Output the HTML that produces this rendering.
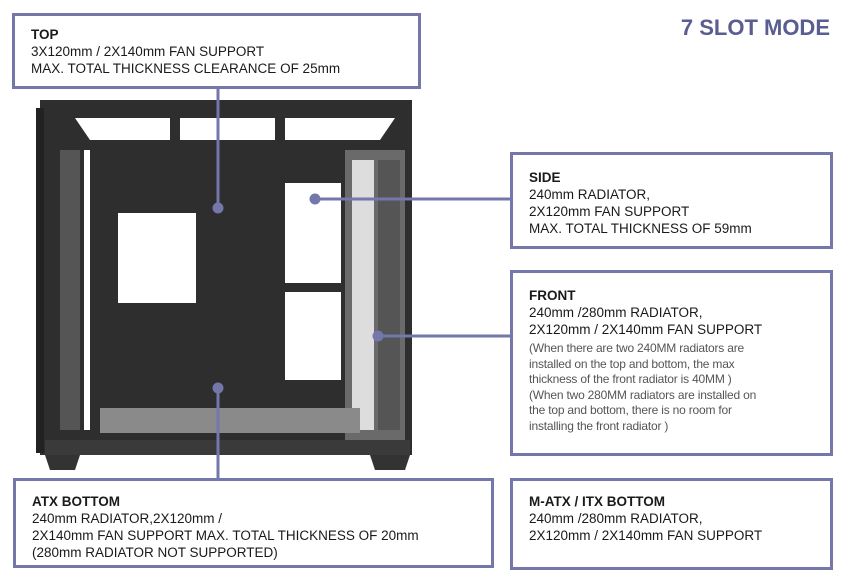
<!DOCTYPE html>
<html><head><meta charset="utf-8"><style>
body{margin:0;width:844px;height:583px;background:#fff;position:relative;overflow:hidden;font-family:"Liberation Sans",sans-serif;color:#1a1a1a}
.box{position:absolute;border:3px solid #7377aa;background:#fff;box-sizing:border-box;padding:10px 16px;font-size:13.5px;line-height:17px}
.box b{font-size:13.5px}
.small{font-size:12px;line-height:15.5px;color:#555;letter-spacing:-0.2px;white-space:nowrap}
svg{position:absolute;left:0;top:0}
</style></head><body>
<svg width="844" height="583">
 <rect x="40" y="100" width="372" height="355" fill="#2e2e2e"/>
 <rect x="36" y="108" width="8" height="345" fill="#222"/>
 <polygon points="75,118 395,118 380,140 90,140" fill="#fff"/>
 <rect x="170" y="118" width="10" height="22" fill="#2e2e2e"/>
 <rect x="275" y="118" width="10" height="22" fill="#2e2e2e"/>
 <rect x="60" y="150" width="20" height="280" fill="#555"/>
 <rect x="84" y="150" width="6" height="280" fill="#fff"/>
 <rect x="118" y="185" width="78" height="118" fill="#fff"/>
 <rect x="118" y="185" width="78" height="28" fill="#2e2e2e"/>
 <rect x="285" y="183" width="56" height="100" fill="#fff"/>
 <rect x="285" y="292" width="56" height="88" fill="#fff"/>
 <rect x="345" y="150" width="60" height="290" fill="#6a6a6a"/>
 <rect x="352" y="160" width="22" height="270" fill="#ddd"/>
 <rect x="378" y="160" width="22" height="270" fill="#555"/>
 <rect x="100" y="408" width="260" height="25" fill="#8a8a8a"/>
 <rect x="45" y="440" width="365" height="15" fill="#3a3a3a"/>
 <polygon points="45,455 80,455 75,470 50,470" fill="#333"/>
 <polygon points="370,455 410,455 405,470 375,470" fill="#333"/>
 <g stroke="#7377aa" stroke-width="3" fill="#7377aa">
  <line x1="218" y1="88" x2="218" y2="208"/><circle cx="218" cy="208" r="4"/>
  <line x1="510" y1="199" x2="315" y2="199"/><circle cx="315" cy="199" r="4"/>
  <line x1="510" y1="336" x2="378" y2="336"/><circle cx="378" cy="336" r="4"/>
  <line x1="218" y1="480" x2="218" y2="388"/><circle cx="218" cy="388" r="4"/>
 </g>
</svg>
<div style="position:absolute;right:14px;top:15px;font-size:22px;font-weight:bold;color:#5a5d8f">7 SLOT MODE</div>
<div class="box" style="left:12px;top:13px;width:409px;height:76px"><b>TOP</b><br>3X120mm / 2X140mm FAN SUPPORT<br>MAX. TOTAL THICKNESS CLEARANCE OF 25mm</div>
<div class="box" style="left:510px;top:152px;width:323px;height:97px;padding-top:14px"><b>SIDE</b><br>240mm RADIATOR,<br>2X120mm FAN SUPPORT<br>MAX. TOTAL THICKNESS OF 59mm</div>
<div class="box" style="left:510px;top:270px;width:323px;height:186px;padding-top:14px"><b>FRONT</b><br>240mm /280mm RADIATOR,<br>2X120mm / 2X140mm FAN SUPPORT<div class="small" style="margin-top:3px">(When there are two 240MM radiators are<br>installed on the top and bottom, the max<br>thickness of the front radiator is 40MM )<br>(When two 280MM radiators are installed on<br>the top and bottom, there is no room for<br>installing the front radiator )</div></div>
<div class="box" style="left:13px;top:478px;width:481px;height:90px;padding-top:12px"><b>ATX BOTTOM</b><br>240mm RADIATOR,2X120mm /<br>2X140mm FAN SUPPORT MAX. TOTAL THICKNESS OF 20mm<br>(280mm RADIATOR NOT SUPPORTED)</div>
<div class="box" style="left:510px;top:478px;width:323px;height:92px;padding-top:12px"><b>M-ATX / ITX BOTTOM</b><br>240mm /280mm RADIATOR,<br>2X120mm / 2X140mm FAN SUPPORT</div>
</body></html>
